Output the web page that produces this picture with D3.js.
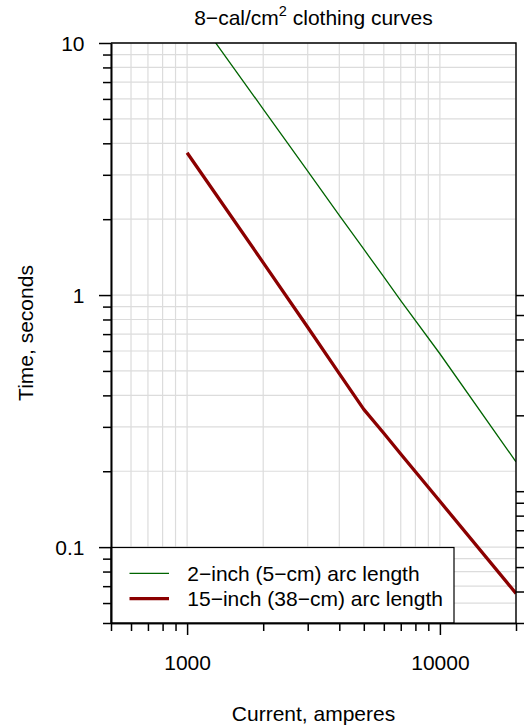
<!DOCTYPE html>
<html>
<head>
<meta charset="utf-8">
<script src="https://cdn.jsdelivr.net/npm/d3@7"></script>
<style>
  html, body { margin: 0; padding: 0; background: #fff; }
  svg { display: block; }
  text { font-family: "Liberation Sans", Arial, sans-serif; fill: #000; }
</style>
</head>
<body>
<div id="chart"></div>
<script>
// ---- data ----
const currentAmps   = [1000, 2000, 3000, 4000, 5000, 6000, 7000, 10000, 20000];
const time2inch     = [14.4, 5.47, 3.10, 2.07, 1.52, 1.18, 0.95, 0.585, 0.218];
const time15inch    = [3.67, 1.345, 0.745, 0.488, 0.352, 0.283, 0.234, 0.152, 0.0655];
const seriesNames   = ["2\u2212inch (5\u2212cm) arc length", "15\u2212inch (38\u2212cm) arc length"];
const seriesColors  = ["#006400", "#8B0000"];
const xTickValues   = [500, 600, 700, 800, 900, 1000, 2000, 3000, 4000, 5000, 6000, 7000, 8000, 9000, 10000, 20000];
const xLabelValues  = [1000, 10000];
const yTickValues   = [0.05, 0.06, 0.07, 0.08, 0.09, 0.1, 0.2, 0.3, 0.4, 0.5, 0.6, 0.7, 0.8, 0.9, 1, 2, 3, 4, 5, 6, 7, 8, 9, 10];
const yLabelValues  = [0.1, 1, 10];
const cycleTicks    = [3, 4, 5, 6, 7, 8, 9, 10, 20, 30, 40, 50, 60]; // right axis, cycles (60 Hz)
const titleMain     = "8\u2212cal/cm";
const titleSup      = "2";
const titleRest     = " clothing curves";
const xTitle        = "Current, amperes";
const yTitle        = "Time, seconds";

// ---- layout ----
const W = 524, H = 726;
const L = 111, R = 516, T = 43, B = 623;
const FS = 21;

const svg = d3.select("#chart").append("svg").attr("width", W).attr("height", H);

const x = d3.scaleLog().domain([500, 20000]).range([L, R]);
const y = d3.scaleLog().domain([0.05, 10]).range([B, T]);

// grid
const grid = svg.append("g").attr("stroke", "#dcdcdc").attr("stroke-width", 1.2);
grid.selectAll("line.vx").data(xTickValues).join("line")
  .attr("x1", d => x(d)).attr("x2", d => x(d)).attr("y1", T).attr("y2", B);
grid.selectAll("line.hy").data(yTickValues).join("line")
  .attr("y1", d => y(d)).attr("y2", d => y(d)).attr("x1", L).attr("x2", R);

// clip
svg.append("clipPath").attr("id", "plotclip").append("rect")
  .attr("x", L).attr("y", T).attr("width", R - L).attr("height", B - T);

const line = d3.line().x(d => x(d[0])).y(d => y(d[1]));
const plotG = svg.append("g").attr("clip-path", "url(#plotclip)");
plotG.append("path").datum(d3.zip(currentAmps, time2inch))
  .attr("d", line).attr("fill", "none").attr("stroke", seriesColors[0]).attr("stroke-width", 1.3);
plotG.append("path").datum(d3.zip(currentAmps, time15inch))
  .attr("d", line).attr("fill", "none").attr("stroke", seriesColors[1]).attr("stroke-width", 3.3)
  .attr("stroke-linejoin", "round");

// legend
const lg = svg.append("g");
lg.append("rect").attr("x", L).attr("y", 547.5).attr("width", 454 - L).attr("height", B - 547.5)
  .attr("fill", "#fff").attr("stroke", "#000").attr("stroke-width", 1.2);
const legendY = [573.3, 598.7];
const legendW = [1.3, 3.3];
seriesNames.forEach((name, i) => {
  lg.append("line").attr("x1", 129.5).attr("x2", 169).attr("y1", legendY[i]).attr("y2", legendY[i])
    .attr("stroke", seriesColors[i]).attr("stroke-width", legendW[i]);
  lg.append("text").attr("x", 187.3).attr("y", legendY[i] + 7.5).attr("font-size", FS).text(name);
});

// axes
function styleAxis(g) {
  g.selectAll("path.domain").attr("stroke", "#000").attr("stroke-width", 1.6);
  g.selectAll(".tick line").attr("stroke", "#000").attr("stroke-width", 1.5);
  g.selectAll(".tick text").attr("font-size", FS).attr("font-family", "Liberation Sans, Arial, sans-serif").attr("fill", "#000");
}
const fmt = d => String(d);

// left: minor + major
const leftMinor = svg.append("g").attr("transform", `translate(${L},0)`)
  .call(d3.axisLeft(y).tickValues(yTickValues.filter(v => !yLabelValues.includes(v))).tickSize(8).tickSizeOuter(0).tickFormat(""));
styleAxis(leftMinor);
const leftMajor = svg.append("g").attr("transform", `translate(${L},0)`)
  .call(d3.axisLeft(y).tickValues(yLabelValues).tickSize(12).tickSizeOuter(0).tickPadding(14.5).tickFormat(fmt));
styleAxis(leftMajor);
leftMajor.selectAll(".tick text").attr("dy", "0.36em");

// bottom
const botMinor = svg.append("g").attr("transform", `translate(0,${B})`)
  .call(d3.axisBottom(x).tickValues(xTickValues.filter(v => !xLabelValues.includes(v))).tickSize(8).tickSizeOuter(0).tickFormat(""));
styleAxis(botMinor);
const botMajor = svg.append("g").attr("transform", `translate(0,${B})`)
  .call(d3.axisBottom(x).tickValues(xLabelValues).tickSize(12).tickSizeOuter(0).tickPadding(20.5).tickFormat(fmt));
styleAxis(botMajor);

// right axis: cycles -> seconds
const rightAx = svg.append("g").attr("transform", `translate(${R},0)`)
  .call(d3.axisRight(y).tickValues(cycleTicks.map(c => c / 60)).tickSize(12).tickSizeOuter(0).tickFormat(""));
styleAxis(rightAx);
rightAx.select("path.domain").remove();

// box (top + right)
svg.append("path").attr("d", `M${L},${T}H${R}V${B}`).attr("fill", "none")
  .attr("stroke", "#000").attr("stroke-width", 1.4);

// titles
const title = svg.append("text").attr("x", (L + R) / 2).attr("y", 25).attr("text-anchor", "middle").attr("font-size", FS);
title.append("tspan").text(titleMain);
title.append("tspan").attr("dy", -9).attr("font-size", 14.5).text(titleSup);
title.append("tspan").attr("dy", 9).text(titleRest);

svg.append("text").attr("x", (L + R) / 2).attr("y", 720.5).attr("text-anchor", "middle").attr("font-size", FS).text(xTitle);
svg.append("text").attr("transform", `translate(33,${(T + B) / 2}) rotate(-90)`).attr("text-anchor", "middle").attr("font-size", FS).text(yTitle);
</script>
</body>
</html>
